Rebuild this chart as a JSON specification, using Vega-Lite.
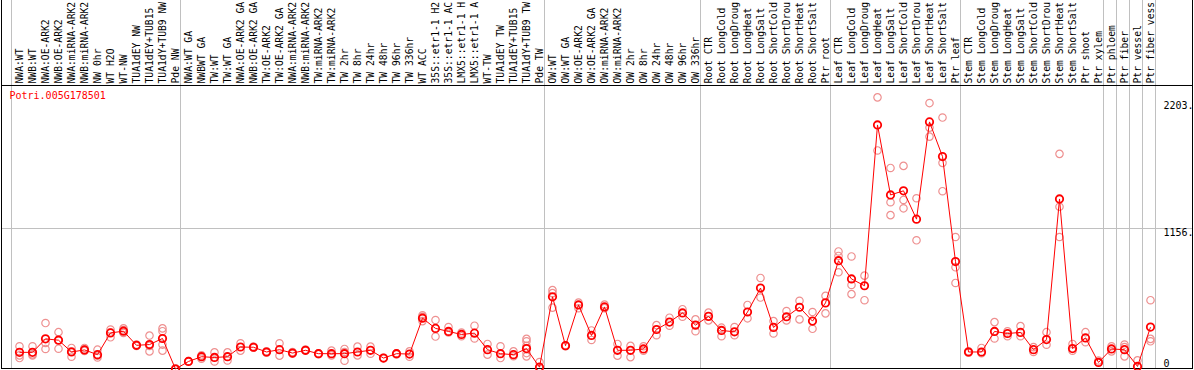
{
  "$schema": "https://vega.github.io/schema/vega-lite/v6.json",
  "width": 1192,
  "height": 369,
  "autosize": {"type": "none"},
  "padding": {"left": 1, "top": 0, "right": 1, "bottom": 1},
  "background": "white",
  "config": {"view": {"stroke": null}, "font": "DejaVu Sans Mono"},
  "datasets": {
    "means": [
      {"sample": "NWA:WT", "value": 137}, {"sample": "NWB:WT", "value": 137}, {"sample": "NWA:OE-ARK2", "value": 248}, {"sample": "NWB:OE-ARK2", "value": 237},
      {"sample": "NWA:miRNA-ARK2", "value": 140}, {"sample": "NWB:miRNA-ARK2", "value": 157}, {"sample": "NW 0hr", "value": 118}, {"sample": "WT H2O", "value": 297},
      {"sample": "WT-NW", "value": 311}, {"sample": "TUA1dEY NW", "value": 195}, {"sample": "TUA1dEY+TUB15 NW", "value": 201}, {"sample": "TUA1dY+TUB9 NW", "value": 251},
      {"sample": "Pde NW", "value": 0},
      {"sample": "NWA:WT GA", "value": 62}, {"sample": "NWBWT GA", "value": 101}, {"sample": "TW:WT", "value": 95}, {"sample": "TW:WT GA", "value": 101},
      {"sample": "NWA:OE-ARK2 GA", "value": 181}, {"sample": "NWB:OE-ARK2 GA", "value": 179}, {"sample": "TW:OE-ARK2", "value": 140}, {"sample": "TW:OE-ARK2 GA", "value": 159},
      {"sample": "NWA:miRNA-ARK2 GA", "value": 131}, {"sample": "NWB:miRNA-ARK2 GA", "value": 154}, {"sample": "TW:miRNA-ARK2", "value": 126}, {"sample": "TW:miRNA-ARK2 GA", "value": 126},
      {"sample": "TW 2hr", "value": 126}, {"sample": "TW 8hr", "value": 140}, {"sample": "TW 24hr", "value": 154}, {"sample": "TW 48hr", "value": 90},
      {"sample": "TW 96hr", "value": 126}, {"sample": "TW 336hr", "value": 123}, {"sample": "WT ACC", "value": 418}, {"sample": "35S::etr1-1 H2O", "value": 334},
      {"sample": "35S::etr1-1 ACC", "value": 309}, {"sample": "LMX5::etr1-1 H2O", "value": 284}, {"sample": "LMX5::etr1-1 ACC", "value": 295}, {"sample": "WT-TW", "value": 159},
      {"sample": "TUA1dEY TW", "value": 126}, {"sample": "TUA1dEY+TUB15 TW", "value": 118}, {"sample": "TUA1dY+TUB9 TW", "value": 168}, {"sample": "Pde TW", "value": 15},
      {"sample": "OW:WT", "value": 594}, {"sample": "OW:WT GA", "value": 192}, {"sample": "OW:OE-ARK2", "value": 527}, {"sample": "OW:OE-ARK2 GA", "value": 276},
      {"sample": "OW:miRNA-ARK2", "value": 511}, {"sample": "OW:miRNA-ARK2 GA", "value": 154}, {"sample": "OW 2hr", "value": 154}, {"sample": "OW 8hr", "value": 165},
      {"sample": "OW 24hr", "value": 325}, {"sample": "OW 48hr", "value": 386}, {"sample": "OW 96hr", "value": 461}, {"sample": "OW 336hr", "value": 361},
      {"sample": "Root CTR", "value": 433}, {"sample": "Root LongCold", "value": 317}, {"sample": "Root LongDrought", "value": 306}, {"sample": "Root LongHeat", "value": 469},
      {"sample": "Root LongSalt", "value": 666}, {"sample": "Root ShortCold", "value": 342}, {"sample": "Root ShortDrought", "value": 430}, {"sample": "Root ShortHeat", "value": 508},
      {"sample": "Root ShortSalt", "value": 394}, {"sample": "Ptr root", "value": 544},
      {"sample": "Leaf CTR", "value": 891}, {"sample": "Leaf LongCold", "value": 741}, {"sample": "Leaf LongDrought", "value": 685}, {"sample": "Leaf LongHeat", "value": 2008},
      {"sample": "Leaf LongSalt", "value": 1432}, {"sample": "Leaf ShortCold", "value": 1466}, {"sample": "Leaf ShortDrought", "value": 1233}, {"sample": "Leaf ShortHeat", "value": 2033},
      {"sample": "Leaf ShortSalt", "value": 1748}, {"sample": "Ptr leaf", "value": 884},
      {"sample": "Stem CTR", "value": 140}, {"sample": "Stem LongCold", "value": 140}, {"sample": "Stem LongDrought", "value": 309}, {"sample": "Stem LongHeat", "value": 292},
      {"sample": "Stem LongSalt", "value": 301}, {"sample": "Stem ShortCold", "value": 159}, {"sample": "Stem ShortDrought", "value": 242}, {"sample": "Stem ShortHeat", "value": 1399},
      {"sample": "Stem ShortSalt", "value": 168}, {"sample": "Ptr shoot", "value": 256}, {"sample": "Ptr xylem", "value": 54},
      {"sample": "Ptr phloem", "value": 165}, {"sample": "Ptr fiber", "value": 159}, {"sample": "Ptr vessel", "value": 21}, {"sample": "Ptr fiber vessel", "value": 345}
    ],
    "reps": [
      {"sample": "NWA:WT", "value": 187}, {"sample": "NWA:WT", "value": 112}, {"sample": "NWA:WT", "value": 90},
      {"sample": "NWB:WT", "value": 187}, {"sample": "NWB:WT", "value": 112}, {"sample": "NWB:WT", "value": 120},
      {"sample": "NWA:OE-ARK2", "value": 378}, {"sample": "NWA:OE-ARK2", "value": 214}, {"sample": "NWA:OE-ARK2", "value": 165},
      {"sample": "NWB:OE-ARK2", "value": 303}, {"sample": "NWB:OE-ARK2", "value": 167}, {"sample": "NWB:OE-ARK2", "value": 240},
      {"sample": "NWA:miRNA-ARK2", "value": 173}, {"sample": "NWA:miRNA-ARK2", "value": 101}, {"sample": "NWA:miRNA-ARK2", "value": 145},
      {"sample": "NWB:miRNA-ARK2", "value": 173}, {"sample": "NWB:miRNA-ARK2", "value": 149}, {"sample": "NWB:miRNA-ARK2", "value": 160},
      {"sample": "NW 0hr", "value": 159}, {"sample": "NW 0hr", "value": 95}, {"sample": "NW 0hr", "value": 110},
      {"sample": "WT H2O", "value": 325}, {"sample": "WT H2O", "value": 261}, {"sample": "WT H2O", "value": 300},
      {"sample": "WT-NW", "value": 334}, {"sample": "WT-NW", "value": 297}, {"sample": "WT-NW", "value": 320},
      {"sample": "TUA1dEY NW", "value": 201}, {"sample": "TUA1dEY NW", "value": 190},
      {"sample": "TUA1dEY+TUB15 NW", "value": 275}, {"sample": "TUA1dEY+TUB15 NW", "value": 145}, {"sample": "TUA1dEY+TUB15 NW", "value": 190},
      {"sample": "TUA1dY+TUB9 NW", "value": 334}, {"sample": "TUA1dY+TUB9 NW", "value": 311}, {"sample": "TUA1dY+TUB9 NW", "value": 201}, {"sample": "TUA1dY+TUB9 NW", "value": 151},
      {"sample": "Pde NW", "value": 5},
      {"sample": "NWA:WT GA", "value": 66},
      {"sample": "NWBWT GA", "value": 112}, {"sample": "NWBWT GA", "value": 85},
      {"sample": "TW:WT", "value": 137}, {"sample": "TW:WT", "value": 62},
      {"sample": "TW:WT GA", "value": 137}, {"sample": "TW:WT GA", "value": 70},
      {"sample": "NWA:OE-ARK2 GA", "value": 212}, {"sample": "NWA:OE-ARK2 GA", "value": 151},
      {"sample": "NWB:OE-ARK2 GA", "value": 185}, {"sample": "NWB:OE-ARK2 GA", "value": 175},
      {"sample": "TW:OE-ARK2", "value": 145}, {"sample": "TW:OE-ARK2", "value": 135},
      {"sample": "TW:OE-ARK2 GA", "value": 212}, {"sample": "TW:OE-ARK2 GA", "value": 110},
      {"sample": "NWA:miRNA-ARK2 GA", "value": 140}, {"sample": "NWA:miRNA-ARK2 GA", "value": 125},
      {"sample": "NWB:miRNA-ARK2 GA", "value": 160}, {"sample": "NWB:miRNA-ARK2 GA", "value": 150},
      {"sample": "TW:miRNA-ARK2", "value": 130}, {"sample": "TW:miRNA-ARK2", "value": 122},
      {"sample": "TW:miRNA-ARK2 GA", "value": 151}, {"sample": "TW:miRNA-ARK2 GA", "value": 112},
      {"sample": "TW 2hr", "value": 165}, {"sample": "TW 2hr", "value": 68}, {"sample": "TW 2hr", "value": 140},
      {"sample": "TW 8hr", "value": 184}, {"sample": "TW 8hr", "value": 112},
      {"sample": "TW 24hr", "value": 184}, {"sample": "TW 24hr", "value": 126},
      {"sample": "TW 48hr", "value": 92}, {"sample": "TW 48hr", "value": 88},
      {"sample": "TW 96hr", "value": 130}, {"sample": "TW 96hr", "value": 120},
      {"sample": "TW 336hr", "value": 145}, {"sample": "TW 336hr", "value": 101},
      {"sample": "WT ACC", "value": 442}, {"sample": "WT ACC", "value": 394}, {"sample": "WT ACC", "value": 430},
      {"sample": "35S::etr1-1 H2O", "value": 403}, {"sample": "35S::etr1-1 H2O", "value": 267},
      {"sample": "35S::etr1-1 ACC", "value": 345}, {"sample": "35S::etr1-1 ACC", "value": 300},
      {"sample": "LMX5::etr1-1 H2O", "value": 300}, {"sample": "LMX5::etr1-1 H2O", "value": 270},
      {"sample": "LMX5::etr1-1 ACC", "value": 356}, {"sample": "LMX5::etr1-1 ACC", "value": 251},
      {"sample": "WT-TW", "value": 206}, {"sample": "WT-TW", "value": 118},
      {"sample": "TUA1dEY TW", "value": 187}, {"sample": "TUA1dEY TW", "value": 90},
      {"sample": "TUA1dEY+TUB15 TW", "value": 145}, {"sample": "TUA1dEY+TUB15 TW", "value": 105},
      {"sample": "TUA1dY+TUB9 TW", "value": 248}, {"sample": "TUA1dY+TUB9 TW", "value": 228}, {"sample": "TUA1dY+TUB9 TW", "value": 190}, {"sample": "TUA1dY+TUB9 TW", "value": 131}, {"sample": "TUA1dY+TUB9 TW", "value": 104},
      {"sample": "Pde TW", "value": 57}, {"sample": "Pde TW", "value": 5},
      {"sample": "OW:WT", "value": 649}, {"sample": "OW:WT", "value": 624}, {"sample": "OW:WT", "value": 505},
      {"sample": "OW:WT GA", "value": 195}, {"sample": "OW:WT GA", "value": 188},
      {"sample": "OW:OE-ARK2", "value": 547}, {"sample": "OW:OE-ARK2", "value": 500},
      {"sample": "OW:OE-ARK2 GA", "value": 317}, {"sample": "OW:OE-ARK2 GA", "value": 239},
      {"sample": "OW:miRNA-ARK2", "value": 530}, {"sample": "OW:miRNA-ARK2", "value": 500},
      {"sample": "OW:miRNA-ARK2 GA", "value": 206}, {"sample": "OW:miRNA-ARK2 GA", "value": 110},
      {"sample": "OW 2hr", "value": 190}, {"sample": "OW 2hr", "value": 98},
      {"sample": "OW 8hr", "value": 187}, {"sample": "OW 8hr", "value": 150},
      {"sample": "OW 24hr", "value": 361}, {"sample": "OW 24hr", "value": 278},
      {"sample": "OW 48hr", "value": 422}, {"sample": "OW 48hr", "value": 356},
      {"sample": "OW 96hr", "value": 492}, {"sample": "OW 96hr", "value": 430},
      {"sample": "OW 336hr", "value": 408}, {"sample": "OW 336hr", "value": 311},
      {"sample": "Root CTR", "value": 464}, {"sample": "Root CTR", "value": 400},
      {"sample": "Root LongCold", "value": 340}, {"sample": "Root LongCold", "value": 270},
      {"sample": "Root LongDrought", "value": 345}, {"sample": "Root LongDrought", "value": 278},
      {"sample": "Root LongHeat", "value": 527}, {"sample": "Root LongHeat", "value": 417},
      {"sample": "Root LongSalt", "value": 749}, {"sample": "Root LongSalt", "value": 588},
      {"sample": "Root ShortCold", "value": 394}, {"sample": "Root ShortCold", "value": 292},
      {"sample": "Root ShortDrought", "value": 477}, {"sample": "Root ShortDrought", "value": 400},
      {"sample": "Root ShortHeat", "value": 561}, {"sample": "Root ShortHeat", "value": 408},
      {"sample": "Root ShortSalt", "value": 469}, {"sample": "Root ShortSalt", "value": 331},
      {"sample": "Ptr root", "value": 602}, {"sample": "Ptr root", "value": 458},
      {"sample": "Leaf CTR", "value": 967}, {"sample": "Leaf CTR", "value": 796}, {"sample": "Leaf CTR", "value": 930},
      {"sample": "Leaf LongCold", "value": 926}, {"sample": "Leaf LongCold", "value": 691}, {"sample": "Leaf LongCold", "value": 616},
      {"sample": "Leaf LongDrought", "value": 768}, {"sample": "Leaf LongDrought", "value": 566},
      {"sample": "Leaf LongHeat", "value": 2235}, {"sample": "Leaf LongHeat", "value": 1798},
      {"sample": "Leaf LongSalt", "value": 1654}, {"sample": "Leaf LongSalt", "value": 1372}, {"sample": "Leaf LongSalt", "value": 1266},
      {"sample": "Leaf ShortCold", "value": 1671}, {"sample": "Leaf ShortCold", "value": 1391}, {"sample": "Leaf ShortCold", "value": 1322},
      {"sample": "Leaf ShortDrought", "value": 1405}, {"sample": "Leaf ShortDrought", "value": 1059},
      {"sample": "Leaf ShortHeat", "value": 2188}, {"sample": "Leaf ShortHeat", "value": 1986}, {"sample": "Leaf ShortHeat", "value": 1912},
      {"sample": "Leaf ShortSalt", "value": 2069}, {"sample": "Leaf ShortSalt", "value": 1696}, {"sample": "Leaf ShortSalt", "value": 1463},
      {"sample": "Ptr leaf", "value": 1086}, {"sample": "Ptr leaf", "value": 837}, {"sample": "Ptr leaf", "value": 708},
      {"sample": "Stem CTR", "value": 145}, {"sample": "Stem CTR", "value": 135},
      {"sample": "Stem LongCold", "value": 173}, {"sample": "Stem LongCold", "value": 130},
      {"sample": "Stem LongDrought", "value": 386}, {"sample": "Stem LongDrought", "value": 251},
      {"sample": "Stem LongHeat", "value": 310}, {"sample": "Stem LongHeat", "value": 270},
      {"sample": "Stem LongSalt", "value": 353}, {"sample": "Stem LongSalt", "value": 270},
      {"sample": "Stem ShortCold", "value": 180}, {"sample": "Stem ShortCold", "value": 140},
      {"sample": "Stem ShortDrought", "value": 303}, {"sample": "Stem ShortDrought", "value": 200},
      {"sample": "Stem ShortHeat", "value": 1770}, {"sample": "Stem ShortHeat", "value": 1335}, {"sample": "Stem ShortHeat", "value": 1086},
      {"sample": "Stem ShortSalt", "value": 206}, {"sample": "Stem ShortSalt", "value": 150},
      {"sample": "Ptr shoot", "value": 303}, {"sample": "Ptr shoot", "value": 220},
      {"sample": "Ptr xylem", "value": 70},
      {"sample": "Ptr phloem", "value": 187}, {"sample": "Ptr phloem", "value": 145},
      {"sample": "Ptr fiber", "value": 201}, {"sample": "Ptr fiber", "value": 104}, {"sample": "Ptr fiber", "value": 180},
      {"sample": "Ptr vessel", "value": 71},
      {"sample": "Ptr fiber vessel", "value": 566}, {"sample": "Ptr fiber vessel", "value": 248}, {"sample": "Ptr fiber vessel", "value": 228}
    ],
    "seps": [
      {"sample": "NWA:WT"}, {"sample": "NWA:WT GA"}, {"sample": "OW:WT"}, {"sample": "Root CTR"}, {"sample": "Leaf CTR"},
      {"sample": "Stem CTR"}, {"sample": "Ptr phloem"}, {"sample": "Ptr fiber"}, {"sample": "Ptr vessel"}, {"sample": "Ptr fiber vessel"}
    ],
    "gene": [{"sample": "NWA:WT", "name": "Potri.005G178501"}],
    "grid": [{"value": 1156}],
    "frame": [{"value": 2332.6}, {"value": 4}],
    "yticks": [{"value": 0, "label": "0"}, {"value": 1156, "label": "1156."}, {"value": 2203, "label": "2203."}]
  },
  "layer": [
    {
      "data": {"name": "means"},
      "mark": {"type": "point", "opacity": 0},
      "encoding": {
        "x": {
          "field": "sample", "type": "nominal", "axis": null,
          "scale": {
            "type": "point", "range": [12, 1156], "padding": 0.5,
            "domain": ["NWA:WT","NWB:WT","NWA:OE-ARK2","NWB:OE-ARK2","NWA:miRNA-ARK2","NWB:miRNA-ARK2","NW 0hr","WT H2O","WT-NW","TUA1dEY NW","TUA1dEY+TUB15 NW","TUA1dY+TUB9 NW","Pde NW",
              "NWA:WT GA","NWBWT GA","TW:WT","TW:WT GA","NWA:OE-ARK2 GA","NWB:OE-ARK2 GA","TW:OE-ARK2","TW:OE-ARK2 GA","NWA:miRNA-ARK2 GA","NWB:miRNA-ARK2 GA","TW:miRNA-ARK2","TW:miRNA-ARK2 GA","TW 2hr","TW 8hr","TW 24hr","TW 48hr","TW 96hr","TW 336hr","WT ACC","35S::etr1-1 H2O","35S::etr1-1 ACC","LMX5::etr1-1 H2O","LMX5::etr1-1 ACC","WT-TW","TUA1dEY TW","TUA1dEY+TUB15 TW","TUA1dY+TUB9 TW","Pde TW",
              "OW:WT","OW:WT GA","OW:OE-ARK2","OW:OE-ARK2 GA","OW:miRNA-ARK2","OW:miRNA-ARK2 GA","OW 2hr","OW 8hr","OW 24hr","OW 48hr","OW 96hr","OW 336hr",
              "Root CTR","Root LongCold","Root LongDrought","Root LongHeat","Root LongSalt","Root ShortCold","Root ShortDrought","Root ShortHeat","Root ShortSalt","Ptr root",
              "Leaf CTR","Leaf LongCold","Leaf LongDrought","Leaf LongHeat","Leaf LongSalt","Leaf ShortCold","Leaf ShortDrought","Leaf ShortHeat","Leaf ShortSalt","Ptr leaf",
              "Stem CTR","Stem LongCold","Stem LongDrought","Stem LongHeat","Stem LongSalt","Stem ShortCold","Stem ShortDrought","Stem ShortHeat","Stem ShortSalt","Ptr shoot","Ptr xylem",
              "Ptr phloem","Ptr fiber","Ptr vessel","Ptr fiber vessel"]
          }
        },
        "y": {"field": "value", "type": "quantitative", "axis": null, "scale": {"domain": [0, 3036], "nice": false, "zero": false}}
      }
    },
    {
      "data": {"name": "seps"},
      "mark": {"type": "rule", "color": "#c0c0c0", "strokeWidth": 1, "xOffset": -8},
      "encoding": {"x": {"field": "sample", "type": "nominal", "axis": null}}
    },
    {
      "data": {"name": "gene"},
      "mark": {"type": "rule", "color": "#c0c0c0", "strokeWidth": 1, "xOffset": 5},
      "encoding": {"x": {"datum": "Ptr fiber vessel", "type": "nominal", "axis": null}}
    },
    {
      "data": {"name": "grid"},
      "mark": {"type": "rule", "color": "#c0c0c0", "strokeWidth": 1},
      "encoding": {"y": {"field": "value", "type": "quantitative", "axis": null}}
    },
    {
      "data": {"name": "frame"},
      "mark": {"type": "rule", "color": "#000000", "strokeWidth": 1},
      "encoding": {"y": {"field": "value", "type": "quantitative", "axis": null}}
    },
    {
      "data": {"name": "gene"},
      "mark": {"type": "rule", "color": "#000000", "strokeWidth": 1, "xOffset": -18},
      "encoding": {"x": {"datum": "NWA:WT", "type": "nominal", "axis": null}}
    },
    {
      "data": {"name": "gene"},
      "mark": {"type": "rule", "color": "#000000", "strokeWidth": 1, "xOffset": 42},
      "encoding": {"x": {"datum": "Ptr fiber vessel", "type": "nominal", "axis": null}}
    },
    {
      "data": {"name": "means"},
      "mark": {"type": "text", "angle": 270, "align": "left", "baseline": "middle", "dx": 2, "fontSize": 9.7, "limit": 83, "ellipsis": "\u200b", "font": "DejaVu Sans Mono", "color": "#000000"},
      "encoding": {
        "x": {"field": "sample", "type": "nominal", "axis": null},
        "y": {"datum": 2332.6, "type": "quantitative", "axis": null},
        "text": {"field": "sample"}
      }
    },
    {
      "data": {"name": "gene"},
      "mark": {"type": "text", "align": "left", "baseline": "middle", "dx": -10, "fontSize": 10, "font": "DejaVu Sans Mono", "color": "#ff0000"},
      "encoding": {
        "x": {"field": "sample", "type": "nominal", "axis": null},
        "y": {"datum": 2249, "type": "quantitative", "axis": null},
        "text": {"field": "name"}
      }
    },
    {
      "data": {"name": "yticks"},
      "transform": [{"filter": "datum.value > 0"}],
      "mark": {"type": "text", "align": "left", "baseline": "top", "dx": 13, "fontSize": 10, "font": "DejaVu Sans Mono", "color": "#000000"},
      "encoding": {
        "x": {"datum": "Ptr fiber vessel", "type": "nominal", "axis": null},
        "y": {"field": "value", "type": "quantitative", "axis": null},
        "text": {"field": "label"}
      }
    },
    {
      "data": {"name": "yticks"},
      "transform": [{"filter": "datum.value == 0"}],
      "mark": {"type": "text", "align": "left", "baseline": "bottom", "dx": 13, "fontSize": 10, "font": "DejaVu Sans Mono", "color": "#000000"},
      "encoding": {
        "x": {"datum": "Ptr fiber vessel", "type": "nominal", "axis": null},
        "y": {"field": "value", "type": "quantitative", "axis": null},
        "text": {"field": "label"}
      }
    },
    {
      "data": {"name": "reps"},
      "mark": {"type": "point", "shape": "circle", "filled": false, "size": 55, "strokeWidth": 1.2, "color": "#ee9090", "opacity": 1},
      "encoding": {
        "x": {"field": "sample", "type": "nominal", "axis": null},
        "y": {"field": "value", "type": "quantitative", "axis": null}
      }
    },
    {
      "data": {"name": "means"},
      "mark": {"type": "line", "color": "#ff0000", "strokeWidth": 1},
      "encoding": {
        "x": {"field": "sample", "type": "nominal", "axis": null},
        "y": {"field": "value", "type": "quantitative", "axis": null},
        "order": {"value": null}
      }
    },
    {
      "data": {"name": "means"},
      "mark": {"type": "point", "shape": "circle", "filled": false, "size": 55, "strokeWidth": 1.8, "color": "#ff0000", "opacity": 1},
      "encoding": {
        "x": {"field": "sample", "type": "nominal", "axis": null},
        "y": {"field": "value", "type": "quantitative", "axis": null}
      }
    }
  ]
}
